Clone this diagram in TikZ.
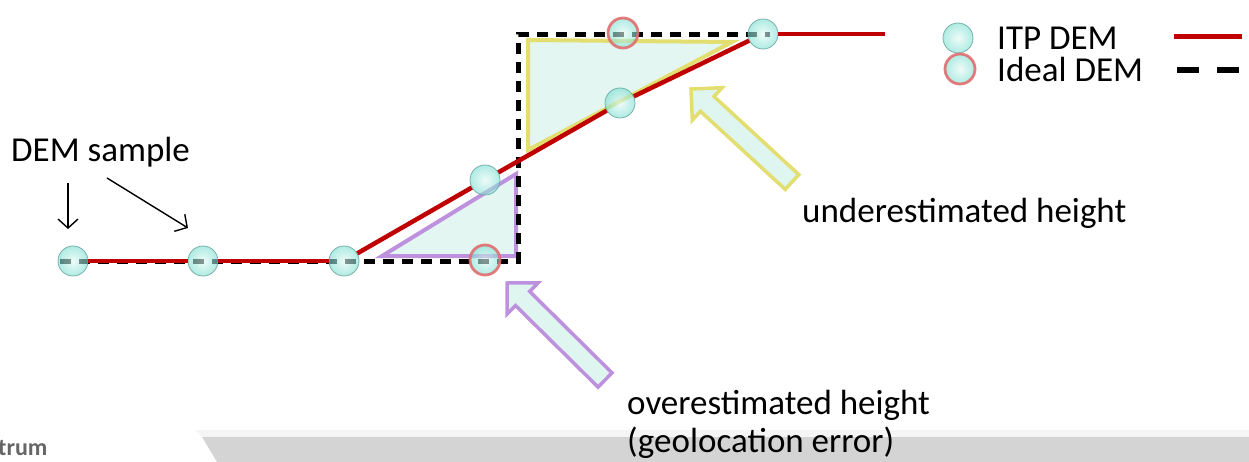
\documentclass[tikz,border=0pt]{standalone}
\usepackage{fontspec}
\setmainfont{Carlito}
\usetikzlibrary{arrows.meta}
\definecolor{itpred}{RGB}{192,0,0}
\definecolor{ballin}{RGB}{228,248,244}
\definecolor{ballout}{RGB}{120,222,208}
\definecolor{ballrim}{RGB}{110,170,165}
\definecolor{idealrim}{RGB}{225,110,110}
\definecolor{purp}{RGB}{190,145,222}
\definecolor{yell}{RGB}{226,222,112}
\definecolor{palefill}{RGB}{222,245,240}
\definecolor{bandgray}{RGB}{212,212,212}
\tikzset{
  itp/.style={circle, minimum size=30pt, inner sep=0pt, draw=ballrim, line width=0.8pt,
    inner color=ballin, outer color=ballout, fill opacity=0.6, draw opacity=0.9},
  ideal/.style={circle, minimum size=30pt, inner sep=0pt, draw=idealrim, line width=2.8pt,
    inner color=ballin, outer color=ballout, fill opacity=0.6, draw opacity=0.9},
  lbl/.style={anchor=west, inner sep=0pt, font=\fontsize{35}{40}\selectfont},
  ideline/.style={black, line width=5pt, dash pattern=on 11pt off 8pt},
  itpline/.style={itpred, line width=4.5pt},
  fat/.style={fill=palefill, line width=3.5pt, line join=miter},
  tri/.style={fill=palefill, fill opacity=0.85, line width=4pt, line join=miter},
  thin/.style={line width=1.4pt, -{Straight Barb[length=9pt,width=20pt]}}
}
\begin{document}
\begin{tikzpicture}[x=1pt,y=-1pt]
\useasboundingbox (0,0) rectangle (1249,462);
% bottom band
\fill[gray!8] (195,430) -- (1249,430) -- (1249,437) -- (202,437) -- cycle;
\fill[bandgray] (202,437) -- (1249,437) -- (1249,462) -- (217,462) -- cycle;
\node[anchor=west, inner sep=0pt, text=gray!80!black, font=\fontsize{24}{28}\selectfont\bfseries] (trum) at (-2,448) {trum};
% triangles
\draw[tri, draw=purp] (382,256) -- (516,174) -- (516,256) -- cycle;
\draw[tri, draw=yell] (528,40) -- (732,42) -- (528,150) -- cycle;
% fat arrows
\draw[fat, draw=purp] (507,283) -- (538.1,282.9) -- (529.7,291.4) -- (612.0,372.9)
  -- (598.0,387.1) -- (515.6,305.6) -- (507.1,314.1) -- cycle;
\draw[fat, draw=yell] (691,89) -- (722.1,87.7) -- (714.0,96.5) -- (798.8,174.6)
  -- (785.2,189.4) -- (700.4,111.3) -- (692.3,120.1) -- cycle;
% ideal DEM dashed
\coordinate (d0) at (60,261);
\coordinate (d1) at (518,261);
\coordinate (d2) at (518,35);
\coordinate (d3) at (770,35);
\draw[ideline] (d0) -- (d1) -- (d2) -- (d3);
% samples
\node[itp] (s1) at (73,261) {};
\node[itp] (s2) at (203,261) {};
\node[itp] (s3) at (344,261) {};
\node[itp] (s4) at (485,180) {};
\node[ideal] (s5) at (485,260) {};
\node[itp] (s6) at (620,103) {};
\node[ideal] (s7) at (623,33) {};
\node[itp] (s8) at (763,34) {};
\coordinate (e) at (885,34);
% ITP DEM line, node to node
\draw[itpline] (s1) -- (s2);
\draw[itpline] (s2) -- (s3);
\draw[itpline] (s3) -- (s4);
\draw[itpline] (s4) -- (s6);
\draw[itpline] (s6) -- (s8);
\draw[itpline] (s8) -- (e);
% labels
\node[lbl] (dem) at (11,152) {DEM sample};
\coordinate (a1s) at (68,183);
\coordinate (a1e) at (68,229);
\coordinate (a2s) at (107,178);
\coordinate (a2e) at (188,228);
\draw[thin] (a1s) -- (a1e);
\draw[thin] (a2s) -- (a2e);
\node[lbl] (under) at (802,213) {underestimated height};
\node[lbl] (over) at (627,405) {overestimated height};
\node[lbl] (geo) at (627,443) {(geolocation error)};
% legend
\node[itp] (l1) at (958,38) {};
\node[ideal] (l2) at (960,69) {};
\node[lbl] (t1) at (997,38) {ITP DEM};
\node[lbl] (t2) at (997,69) {Ideal DEM};
\coordinate (r0) at (1174,37);
\coordinate (r1) at (1242,37);
\draw[itpline, line width=5pt] (r0) -- (r1);
\coordinate (b0) at (1177,70);
\coordinate (b1) at (1244,70);
\draw[black, line width=5.5pt, dash pattern=on 22pt off 18pt] (b0) -- (b1);
\end{tikzpicture}
\end{document}
